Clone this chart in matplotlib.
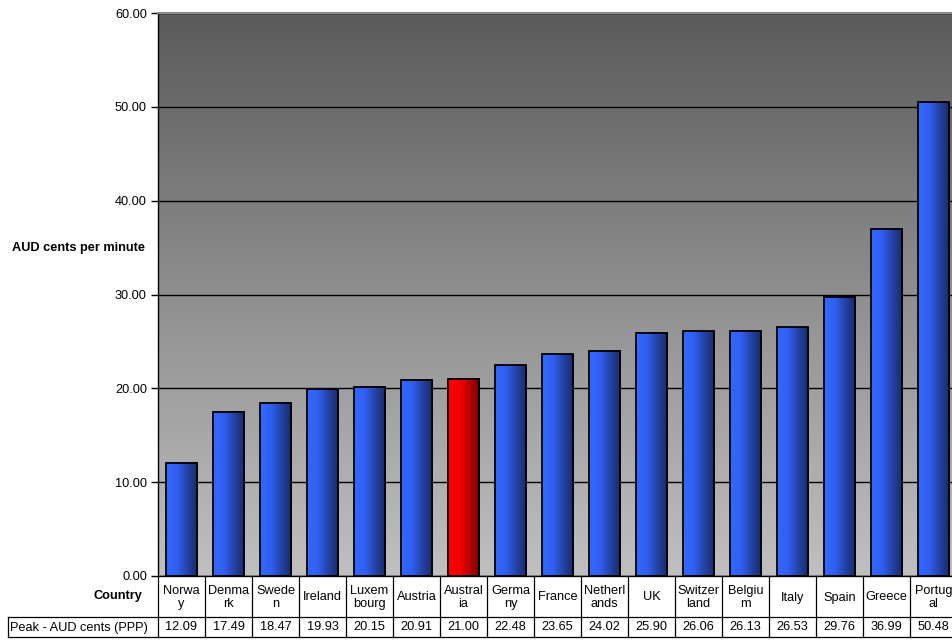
import numpy as np
import matplotlib
matplotlib.use("Agg")
import matplotlib.pyplot as plt
from matplotlib.colors import LinearSegmentedColormap
from matplotlib.lines import Line2D
import matplotlib.transforms as mtransforms

# Peak call price per minute, AUD cents (PPP adjusted)
countries = ["Norway", "Denmark", "Sweden", "Ireland", "Luxembourg", "Austria",
             "Australia", "Germany", "France", "Netherlands", "UK", "Switzerland",
             "Belgium", "Italy", "Spain", "Greece", "Portugal"]
cell_labels = ["Norwa\ny", "Denma\nrk", "Swede\nn", "Ireland", "Luxem\nbourg", "Austria",
               "Austral\nia", "Germa\nny", "France", "Netherl\nands", "UK", "Switzer\nland",
               "Belgiu\nm", "Italy", "Spain", "Greece", "Portug\nal"]
values = [12.09, 17.49, 18.47, 19.93, 20.15, 20.91, 21.00, 22.48, 23.65, 24.02,
          25.90, 26.06, 26.13, 26.53, 29.76, 36.99, 50.48]
highlight = "Australia"
y_ticks = [0, 10, 20, 30, 40, 50, 60]
series_name = "Peak - AUD cents (PPP)"
y_title = "AUD cents per minute"
x_title = "Country"

plt.rcParams['font.family'] = ['Liberation Sans', 'DejaVu Sans']
FS = 9.2

W, H = 952, 641
fig = plt.figure(figsize=(W / 100, H / 100), dpi=100)


def fx(px):
    return px / W


def fy(py):
    return 1 - py / H


n = len(values)
left_px, top_px, bottom_px = 158, 13, 576
col_w = 47
right_px = left_px + col_w * n
ax = fig.add_axes([fx(left_px), fy(bottom_px), (right_px - left_px) / W,
                   (bottom_px - top_px) / H])

x = np.arange(n)
xmin, xmax = -0.5, n - 0.5
ymin, ymax = y_ticks[0], y_ticks[-1]

# plot-area background: dark at the top fading to light grey at the bottom
bg = LinearSegmentedColormap.from_list("bg", ["#c0c0c0", "#8f8f8f", "#5a5a5a"])
ax.imshow(np.linspace(0, 1, 256).reshape(-1, 1), cmap=bg, origin="lower",
          extent=(xmin, xmax, ymin, ymax), aspect="auto", zorder=0)

blue = LinearSegmentedColormap.from_list(
    "blue", [(0, "#3468ff"), (0.35, "#2f5ff0"), (0.7, "#23409f"), (1, "#172a6a")])
red = LinearSegmentedColormap.from_list(
    "red", [(0, "#ff0000"), (0.4, "#f20000"), (0.75, "#a80000"), (1, "#700000")])
hgrad = np.linspace(0, 1, 128).reshape(1, -1)

bar_w = 0.67
bars = ax.bar(x, values, width=bar_w, facecolor="none", edgecolor="black",
              linewidth=1.3, zorder=3)
for name, rect in zip(countries, bars):
    x0, w, h = rect.get_x(), rect.get_width(), rect.get_height()
    cmap = red if name == highlight else blue
    ax.imshow(hgrad, cmap=cmap, origin="lower", extent=(x0, x0 + w, 0, h),
              aspect="auto", zorder=2)

ax.set_xlim(xmin, xmax)
ax.set_ylim(ymin, ymax)
ax.set_yticks(y_ticks)
ax.set_yticklabels([f"{t:.2f}" for t in y_ticks], fontsize=FS)
ax.set_xticks([])
ax.tick_params(axis="y", direction="out", length=5, width=1, color="black", pad=3)
ax.set_axisbelow(True)
ax.yaxis.grid(True, color="black", linewidth=1.0)

for side in ("left", "bottom"):
    ax.spines[side].set_color("black")
    ax.spines[side].set_linewidth(1.0)
ax.spines["top"].set_color("#8a8a8a")
ax.spines["top"].set_linewidth(1.5)
ax.spines["right"].set_visible(False)

# data table below the plot
blend = mtransforms.blended_transform_factory(ax.transData, fig.transFigure)
row1_top, row1_bot, row2_bot = 576, 617, 637
lw = 0.9
for k in range(n + 1):
    xb = k - 0.5
    fig.add_artist(Line2D([xb, xb], [fy(row1_top), fy(row2_bot)], transform=blend,
                          color="black", linewidth=lw))
for yb in (row1_bot, row2_bot):
    fig.add_artist(Line2D([fx(8), fx(right_px)], [fy(yb), fy(yb)],
                          transform=fig.transFigure, color="black", linewidth=lw))
fig.add_artist(Line2D([fx(8), fx(8)], [fy(row1_bot), fy(row2_bot)],
                      transform=fig.transFigure, color="black", linewidth=lw))

for i, (lab, v) in enumerate(zip(cell_labels, values)):
    fig.text(i, fy(597.5), lab, transform=blend, ha="center", va="center",
             fontsize=FS, linespacing=1.2)
    fig.text(i, fy(627.5), f"{v:.2f}", transform=blend, ha="center", va="center",
             fontsize=FS)

fig.text(fx(10), fy(627.5), series_name, ha="left", va="center", fontsize=FS)
fig.text(fx(142), fy(596.5), x_title, ha="right", va="center", fontsize=FS,
         fontweight="bold")
fig.text(fx(79), fy(248), y_title, ha="center", va="center", fontsize=FS,
         fontweight="bold")

fig.savefig("out.png", dpi=100)
